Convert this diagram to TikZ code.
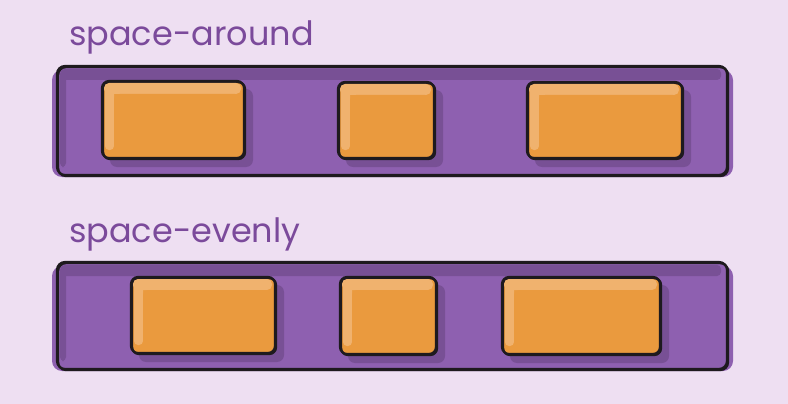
\documentclass[tikz,border=0pt]{standalone}
\usepackage{fontspec}
\setmainfont{Poppins}
\begin{document}
\begin{tikzpicture}[x=1pt,y=-1pt,
  lbl/.style={anchor=base west,inner sep=0pt,text=labeltext,font=\fontsize{33.5}{38}\selectfont},
  container/.style={fill=contpurple,draw=outline,line width=2.2pt,rounded corners=8pt},
  itembox/.style={fill=itemorange,draw=outline,line width=2.2pt,rounded corners=7pt},
]
\definecolor{bg}{HTML}{EEDFF2}
\definecolor{contpurple}{HTML}{8E60B0}
\definecolor{contdark}{HTML}{785095}
\definecolor{itemorange}{HTML}{EA9A3E}
\definecolor{itemlight}{HTML}{F0B26E}
\definecolor{labeltext}{HTML}{7B4A9B}
\definecolor{outline}{HTML}{1E1A1E}
\fill[bg] (0,0) rectangle (788,404);
\useasboundingbox (0,0) rectangle (788,404);

\newcommand{\mycont}[5]{% name, x1,y1,x2,y2
  \fill[contpurple,rounded corners=10pt] (#2-5,#3+4) rectangle (#4+6,#5+2);
  \node[container,minimum width=#4-#2,minimum height=#5-#3,anchor=north west,inner sep=0pt] (#1) at (#2,#3) {};
  \fill[contdark,rounded corners=4pt] (#2+4,#3+3) rectangle (#4-6,#3+14);
  \fill[contdark,rounded corners=4pt] (#2+3,#3+4) rectangle (#2+9,#5-8);
  \draw[outline,line width=2.2pt,rounded corners=8pt] (#2,#3) rectangle (#4,#5);
}
\newcommand{\myitem}[5]{% name, x1,y1,x2,y2
  \fill[contdark,rounded corners=7pt] (#2+8,#3+8) rectangle (#4+9,#5+9);
  \node[itembox,minimum width=#4-#2,minimum height=#5-#3,anchor=north west,inner sep=0pt] (#1) at (#2,#3) {};
  \fill[itemlight,rounded corners=5pt] (#2+2,#3+2) rectangle (#4-3,#3+13);
  \fill[itemlight,rounded corners=4pt] (#2+3,#3+3) rectangle (#2+12,#5-8);
  \fill[itemorange,rounded corners=6pt] (#2+12,#3+13) rectangle (#4-3,#5-3);
  \draw[outline,line width=2.2pt,rounded corners=7pt] (#2,#3) rectangle (#4,#5);
}

\node[lbl] (t1) at (69,46) {space-around};
\mycont{c1}{57}{66}{727}{175}
\myitem{a1}{102}{81}{244}{158}
\myitem{a2}{338}{82}{434}{158}
\myitem{a3}{527}{82}{682}{158}

\node[lbl] (t2) at (69,242) {space-evenly};
\mycont{c2}{57}{262}{727}{369}
\myitem{b1}{131}{277}{275}{353}
\myitem{b2}{340}{277}{436}{354}
\myitem{b3}{502}{277}{660}{354}
\end{tikzpicture}
\end{document}
